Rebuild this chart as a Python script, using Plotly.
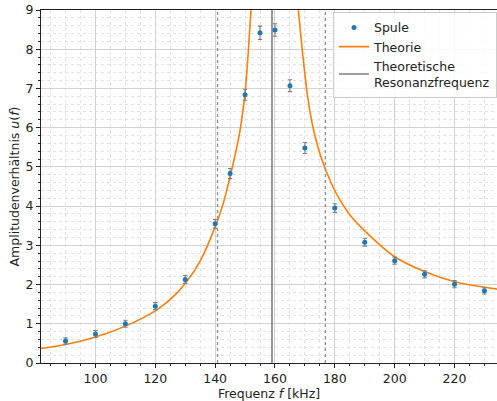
import plotly.graph_objects as go

# Measured data (Spule)
freq_khz = [90, 100, 110, 120, 130, 140, 145, 150, 155, 160, 165, 170, 180, 190, 200, 210, 220, 230]
u_meas = [0.56, 0.74, 1.00, 1.45, 2.13, 3.55, 4.83, 6.84, 8.42, 8.49, 7.07, 5.48, 3.95, 3.08, 2.61, 2.26, 2.01, 1.84]
u_err = [0.08, 0.09, 0.09, 0.09, 0.10, 0.11, 0.13, 0.14, 0.17, 0.16, 0.15, 0.14, 0.11, 0.10, 0.09, 0.09, 0.09, 0.08]

# Theory curve, two branches around the resonance
theo_left_f = [81.8, 90, 100, 110, 120, 125, 130, 135, 140, 142.75, 145, 146.6, 148.3, 150, 151.1, 152.1]
theo_left_u = [0.37, 0.47, 0.66, 0.94, 1.33, 1.62, 2.03, 2.60, 3.47, 4.08, 4.75, 5.28, 5.92, 6.90, 7.95, 9.15]
theo_right_f = [167.6, 169.3, 170.9, 172.8, 175.6, 179.0, 181.6, 185, 190, 200, 210, 220, 230, 234.5]
theo_right_u = [9.15, 7.85, 6.80, 5.98, 5.20, 4.55, 4.17, 3.78, 3.37, 2.71, 2.33, 2.07, 1.93, 1.88]

# Resonance frequency and band limits
f_res = 159.0
f_band = [140.8, 176.85]

# Axis limits and ticks
x_range = [81.8, 234.2]
y_range = [0, 9]
x_ticks = [100, 120, 140, 160, 180, 200, 220]
y_ticks = [0, 1, 2, 3, 4, 5, 6, 7, 8, 9]

FONT = "DejaVu Sans"

fig = go.Figure()

for fb in f_band:
    fig.add_vline(x=fb, line=dict(color="#8c8c8c", width=1.3, dash="dot"), layer="above")

fig.add_trace(go.Scatter(
    x=[f_res, f_res], y=y_range, mode="lines",
    line=dict(color="#7f7f7f", width=1.6),
    name="Theoretische<br>Resonanzfrequenz", legendrank=3,
))

fig.add_trace(go.Scatter(
    x=theo_left_f + [None] + theo_right_f,
    y=theo_left_u + [None] + theo_right_u,
    mode="lines", line=dict(color="#ff7f0e", width=1.6, shape="spline", smoothing=0.8),
    name="Theorie", legendrank=2, connectgaps=False,
))

fig.add_trace(go.Scatter(
    x=freq_khz, y=u_meas, mode="markers",
    marker=dict(color="#1f77b4", size=5),
    error_y=dict(type="data", array=u_err, color="#808080", thickness=1.1, width=2.2),
    name="Spule", legendrank=1,
))

fig.update_layout(
    width=497, height=401,
    margin=dict(l=41, r=0, t=10, b=38, autoexpand=False),
    paper_bgcolor="white", plot_bgcolor="white",
    font=dict(family=FONT, size=12.5, color="#222222"),
    showlegend=True,
    legend=dict(
        x=1.0, y=0.995, xanchor="right", yanchor="top",
        bgcolor="rgba(255,255,255,0.85)", bordercolor="#cccccc", borderwidth=1,
        font=dict(family=FONT, size=12.5, color="#222222"),
        traceorder="normal", itemwidth=30, tracegroupgap=0,
    ),
    xaxis=dict(
        range=x_range, tickvals=x_ticks, ticks="outside", ticklen=4, tickcolor="#222222",
        showline=True, linecolor="#222222", linewidth=1, mirror=True,
        showgrid=True, gridcolor="#d2d2d2", gridwidth=1.2, zeroline=False,
        minor=dict(dtick=5, ticks="outside", ticklen=2, tickcolor="#222222",
                   showgrid=True, gridcolor="#e2e2e2", griddash="dot", gridwidth=1),
        title=dict(text="Frequenz <i>f</i> [kHz]", standoff=4, font=dict(size=12.5)),
        automargin=False,
    ),
    yaxis=dict(
        range=y_range, tickvals=y_ticks, ticks="outside", ticklen=4, tickcolor="#222222",
        showline=True, linecolor="#222222", linewidth=1, mirror=False,
        showgrid=True, gridcolor="#d2d2d2", gridwidth=1.2, zeroline=False,
        minor=dict(dtick=0.2, ticks="outside", ticklen=2, tickcolor="#222222",
                   showgrid=True, gridcolor="#e2e2e2", griddash="dot", gridwidth=1),
        title=dict(text="Amplitudenverhältnis <i>u</i>(<i>f</i>)", standoff=3, font=dict(size=12.5)),
        automargin=False,
    ),
)

fig.write_html(
    "out.html",
    config={"displayModeBar": False},
    post_script="document.body.style.margin='0';document.body.style.padding='0';",
)
